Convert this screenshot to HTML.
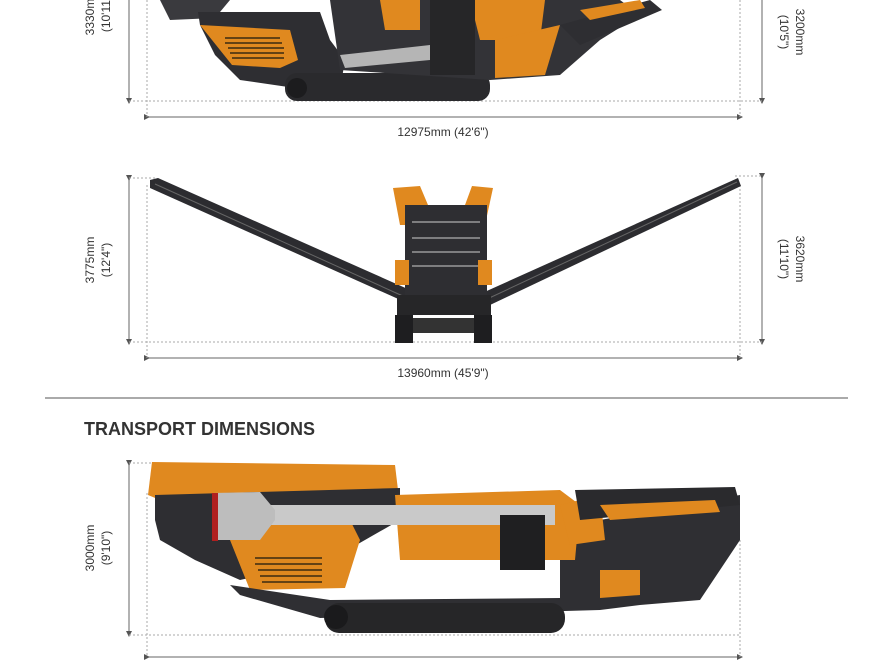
<!DOCTYPE html>
<html><head><meta charset="utf-8"><style>
body{margin:0;background:#fff;width:886px;height:668px;overflow:hidden}
svg{display:block}
text{font-family:"Liberation Sans",sans-serif;fill:#333}
</style></head><body>
<svg width="886" height="668" viewBox="0 0 886 668" xmlns="http://www.w3.org/2000/svg">
<defs>
<marker id="a" markerWidth="6" markerHeight="6" refX="3" refY="3" orient="auto"><path d="M0,0 L6,3 L0,6 z" fill="#555"/></marker>
</defs>
<g stroke="#666" stroke-width="1" fill="none">
<line x1="129" y1="0" x2="129" y2="101" marker-end="url(#a)"/>
<line x1="762" y1="0" x2="762" y2="101" marker-end="url(#a)"/>
<line x1="147" y1="117" x2="740" y2="117" marker-start="url(#a)" marker-end="url(#a)"/>
<g stroke-dasharray="2,2" stroke="#aaa"><line x1="129" y1="101" x2="762" y2="101"/><line x1="147" y1="0" x2="147" y2="117"/><line x1="740" y1="0" x2="740" y2="117"/></g>
<line x1="129" y1="178" x2="129" y2="342" marker-start="url(#a)" marker-end="url(#a)"/>
<line x1="762" y1="176" x2="762" y2="342" marker-start="url(#a)" marker-end="url(#a)"/>
<line x1="147" y1="358" x2="740" y2="358" marker-start="url(#a)" marker-end="url(#a)"/>
<g stroke-dasharray="2,2" stroke="#aaa"><line x1="129" y1="342" x2="762" y2="342"/><line x1="129" y1="178" x2="155" y2="178"/><line x1="735" y1="176" x2="762" y2="176"/><line x1="147" y1="185" x2="147" y2="358"/><line x1="740" y1="185" x2="740" y2="358"/></g>
<line x1="129" y1="463" x2="129" y2="634" marker-start="url(#a)" marker-end="url(#a)"/>
<line x1="147" y1="657" x2="740" y2="657" marker-start="url(#a)" marker-end="url(#a)"/>
<g stroke-dasharray="2,2" stroke="#aaa"><line x1="129" y1="635" x2="740" y2="635"/><line x1="129" y1="463" x2="155" y2="463"/><line x1="147" y1="493" x2="147" y2="657"/><line x1="740" y1="540" x2="740" y2="657"/></g>
</g>
<line x1="45" y1="398" x2="848" y2="398" stroke="#555" stroke-width="1"/>

<text x="443" y="136" font-size="12" text-anchor="middle">12975mm (42'6")</text>
<text x="443" y="377" font-size="12" text-anchor="middle">13960mm (45'9")</text>
<text transform="translate(94,12) rotate(-90)" font-size="12" text-anchor="middle">3330mm</text>
<text transform="translate(110,12) rotate(-90)" font-size="12" text-anchor="middle">(10'11")</text>
<text transform="translate(796,32) rotate(90)" font-size="12" text-anchor="middle">3200mm</text>
<text transform="translate(780,32) rotate(90)" font-size="12" text-anchor="middle">(10'5")</text>
<text transform="translate(94,260) rotate(-90)" font-size="12" text-anchor="middle">3775mm</text>
<text transform="translate(110,260) rotate(-90)" font-size="12" text-anchor="middle">(12'4")</text>
<text transform="translate(796,259) rotate(90)" font-size="12" text-anchor="middle">3620mm</text>
<text transform="translate(780,259) rotate(90)" font-size="12" text-anchor="middle">(11'10")</text>
<text transform="translate(94,548) rotate(-90)" font-size="12" text-anchor="middle">3000mm</text>
<text transform="translate(110,548) rotate(-90)" font-size="12" text-anchor="middle">(9'10")</text>
<text x="84" y="435" font-size="18" font-weight="bold" style="fill:#333">TRANSPORT DIMENSIONS</text>

<g>
<polygon points="160,0 230,0 215,18 170,20" fill="#3a3a3e"/>
<polygon points="198,12 320,12 330,40 345,60 340,90 295,88 240,80 215,55 200,25" fill="#2e2e32"/>
<polygon points="200,25 290,30 298,60 280,68 232,65" fill="#e0891f"/>
<g stroke="#3a2a10" stroke-width="1.5"><line x1="225" y1="38" x2="280" y2="38"/><line x1="225" y1="43" x2="282" y2="43"/><line x1="228" y1="48" x2="284" y2="48"/><line x1="230" y1="53" x2="284" y2="53"/><line x1="232" y1="58" x2="284" y2="58"/></g>
<rect x="285" y="73" width="205" height="28" rx="12" fill="#2a2a2d"/>
<circle cx="297" cy="88" r="10" fill="#1c1c1e"/>
<polygon points="330,0 620,0 640,15 600,40 560,75 490,80 340,70" fill="#333337"/>
<polygon points="380,0 420,0 420,30 385,30" fill="#e0891f"/>
<polygon points="470,0 545,0 540,40 480,40" fill="#e0891f"/>
<rect x="430" y="0" width="45" height="75" fill="#262628"/>
<polygon points="340,55 430,45 430,60 345,68" fill="#b5b5b5"/>
<polygon points="495,40 560,25 545,75 495,78" fill="#e0891f"/>
<polygon points="560,25 650,0 662,10 580,45" fill="#2e2e32"/>
<polygon points="580,10 640,0 645,8 590,20" fill="#e0891f"/>
</g>

<g>
<polygon points="150,180 158,178 410,290 405,302 150,188" fill="#2c2c30"/>
<line x1="155" y1="184" x2="405" y2="297" stroke="#666" stroke-width="1"/>
<polygon points="738,178 741,186 490,305 480,294" fill="#2c2c30"/>
<line x1="737" y1="182" x2="485" y2="300" stroke="#666" stroke-width="1"/>
<polygon points="393,188 420,186 428,205 465,205 472,186 493,188 485,225 400,225" fill="#e0891f"/>
<rect x="405" y="205" width="82" height="90" fill="#2e2e32"/>
<g stroke="#999" stroke-width="1.5"><line x1="412" y1="222" x2="480" y2="222"/><line x1="412" y1="238" x2="480" y2="238"/><line x1="412" y1="252" x2="480" y2="252"/><line x1="412" y1="266" x2="480" y2="266"/></g>
<rect x="395" y="260" width="14" height="25" fill="#e0891f"/>
<rect x="478" y="260" width="14" height="25" fill="#e0891f"/>
<rect x="397" y="295" width="94" height="20" fill="#262628"/>
<rect x="395" y="315" width="18" height="28" fill="#1e1e20"/>
<rect x="474" y="315" width="18" height="28" fill="#1e1e20"/>
<rect x="413" y="318" width="61" height="15" fill="#333"/>
</g>

<g>
<polygon points="152,462 395,465 398,490 160,500 148,495" fill="#e0891f"/>
<polygon points="155,495 400,488 400,520 330,560 240,580 195,560 160,540 155,520" fill="#2e2e32"/>
<polygon points="230,540 270,520 350,520 360,540 345,588 250,590" fill="#e0891f"/>
<g stroke="#3a2a10" stroke-width="1.5"><line x1="255" y1="558" x2="322" y2="558"/><line x1="255" y1="564" x2="322" y2="564"/><line x1="258" y1="570" x2="322" y2="570"/><line x1="260" y1="576" x2="322" y2="576"/><line x1="262" y1="582" x2="322" y2="582"/></g>
<polygon points="230,585 330,600 560,598 560,540 600,520 740,495 740,540 700,600 640,605 600,610 320,618 240,595" fill="#2f2f33"/>
<polygon points="395,495 560,490 580,505 575,560 400,560" fill="#e0891f"/>
<rect x="325" y="603" width="240" height="30" rx="14" fill="#262628"/>
<circle cx="336" cy="617" r="12" fill="#1a1a1c"/>
<polygon points="560,505 600,495 605,540 570,545" fill="#e0891f"/>
<polygon points="575,490 735,487 740,505 580,520" fill="#2a2a2d"/>
<polygon points="600,505 715,500 720,512 610,520" fill="#e0891f"/>
<polygon points="600,570 640,570 640,595 600,598" fill="#e0891f"/>
<rect x="225" y="505" width="330" height="20" fill="#c9c9c9"/>
<polygon points="212,493 260,492 275,510 275,520 260,540 212,540" fill="#bdbdbd"/>
<rect x="212" y="493" width="6" height="48" fill="#b02020"/>
<rect x="500" y="515" width="45" height="55" fill="#1f1f21"/>
</g>
</svg>
</body></html>
